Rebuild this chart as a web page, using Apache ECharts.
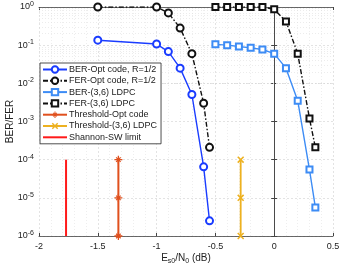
<!DOCTYPE html>
<html><head><meta charset="utf-8">
<script src="https://cdn.jsdelivr.net/npm/echarts@6/dist/echarts.min.js"></script>
<style>html,body{margin:0;padding:0;background:#fff}#c{width:340px;height:274px}</style>
</head><body><div id="c"></div>
<script>
const berOptX = [-1.5, -1.0, -0.9, -0.8, -0.7, -0.6, -0.55];
const berOptY = [0.135, 0.107, 0.068, 0.025, 0.0051, 6.5e-5, 2.5e-6];
const ferOptX = [-1.5, -1.0, -0.9, -0.8, -0.7, -0.6, -0.55];
const ferOptY = [1.0, 1.0, 0.7, 0.28, 0.06, 0.003, 2.1e-4];
const berLdpcX = [-0.5, -0.4, -0.3, -0.2, -0.1, 0.0, 0.1, 0.2, 0.3, 0.35];
const berLdpcY = [0.105, 0.1, 0.092, 0.085, 0.077, 0.06, 0.025, 0.0035, 5.5e-5, 5.6e-6];
const ferLdpcX = [-0.5, -0.4, -0.3, -0.2, -0.1, 0.0, 0.1, 0.2, 0.3, 0.35];
const ferLdpcY = [1.0, 1.0, 1.0, 1.0, 1.0, 0.87, 0.42, 0.06, 0.0012, 2.1e-4];
const thrOptX = [-1.325, -1.325, -1.325];
const thrOptY = [1e-4, 1e-5, 1e-6];
const thrLdpcX = [-0.285, -0.285, -0.285];
const thrLdpcY = [1e-4, 1e-5, 1e-6];
const shannonX = [-1.77, -1.77];
const shannonY = [1e-4, 1e-6];

const zip = (xs, ys) => xs.map((x, i) => [x, ys[i]]);
const minorY = [];
for (let e = -6; e < 0; e++) for (let m = 2; m <= 9; m++) minorY.push({yAxis: m * Math.pow(10, e)});

const FONT = 'Liberation Sans';
const chart = echarts.init(document.getElementById('c'));
const asterisk = 'path://M-1.6,-10L1.6,-10L1.6,10L-1.6,10Z' +
  'M-10,-1.6L10,-1.6L10,1.6L-10,1.6Z' +
  'M-6.72,-4.6L-4.6,-6.72L6.72,4.6L4.6,6.72Z' +
  'M-4.6,6.72L-6.72,4.6L4.6,-6.72L6.72,-4.6Z';
const cross = 'path://M-6.72,-4.6L-4.6,-6.72L6.72,4.6L4.6,6.72Z' +
  'M-4.6,6.72L-6.72,4.6L4.6,-6.72L6.72,-4.6Z';

chart.setOption({
  animation: false,
  textStyle: {fontFamily: FONT},
  grid: {left: 39, right: 7, top: 7, bottom: 38, outerBoundsMode: 'none', containLabel: false},
  legend: {
    orient: 'vertical', left: 40, top: 63,
    backgroundColor: '#fff', borderColor: '#222', borderWidth: 0.8,
    padding: [2, 4, 2, 2], itemGap: 2.3, itemWidth: 24, itemHeight: 8,
    textStyle: {fontSize: 9, color: '#222', fontFamily: FONT, padding: [0, 0, 0, -3]},
    data: ['BER-Opt code, R=1/2', 'FER-Opt code, R=1/2', 'BER-(3,6) LDPC', 'FER-(3,6) LDPC',
           'Threshold-Opt code', 'Threshold-(3,6) LDPC',
           {name: 'Shannon-SW limit', itemStyle: {opacity: 0}}]
  },
  xAxis: [{
    type: 'value', min: -2, max: 0.5, interval: 0.5,
    name: 'E{sub|s0}/N{sub|0} (dB)', nameLocation: 'middle', nameGap: 16, nameMoveOverlap: false,
    nameTextStyle: {fontSize: 10, color: '#222', fontFamily: FONT,
      rich: {sub: {fontSize: 7, verticalAlign: 'bottom', padding: [6, 0, 0, 0], color: '#222'}}},
    axisLine: {lineStyle: {color: '#444', width: 0.8}},
    axisTick: {inside: true, length: 3, lineStyle: {color: '#444'}},
    axisLabel: {fontSize: 9, color: '#222', margin: 6, formatter: v => String(v)},
    splitLine: {show: true, lineStyle: {color: '#d0d0d0', width: 0.6, type: [2, 2]}},
    minorTick: {show: false, splitNumber: 5},
    minorSplitLine: {show: true, lineStyle: {color: '#dcdcdc', width: 0.5, type: [1, 2]}}
  }, {
    type: 'value', min: -2, max: 0.5, interval: 0.5, position: 'top',
    axisLine: {show: true, lineStyle: {color: '#444', width: 0.8}},
    axisTick: {inside: true, length: 3, lineStyle: {color: '#444'}},
    axisLabel: {show: false}, splitLine: {show: false}
  }],
  yAxis: [{
    type: 'log', logBase: 10, min: 1e-6, max: 1,
    name: 'BER/FER', nameLocation: 'middle', nameGap: 24, nameMoveOverlap: false,
    nameTextStyle: {fontSize: 10, color: '#222', fontFamily: FONT},
    axisLine: {show: true, lineStyle: {color: '#444', width: 0.8}},
    axisTick: {inside: true, length: 3, lineStyle: {color: '#444'}},
    axisLabel: {fontSize: 9, color: '#222', margin: 5,
      formatter: v => '10{sup|' + Math.round(Math.log10(v)) + '}',
      rich: {sup: {fontSize: 7, verticalAlign: 'top', padding: [0, 0, 6, 0], color: '#222'}}},
    splitLine: {show: true, lineStyle: {color: '#d0d0d0', width: 0.6, type: [2, 2]}}
  }, {
    type: 'log', logBase: 10, min: 1e-6, max: 1, position: 'right',
    axisLine: {show: true, lineStyle: {color: '#444', width: 0.8}},
    axisTick: {inside: true, length: 3, lineStyle: {color: '#444'}},
    axisLabel: {show: false}, splitLine: {show: false}
  }],
  series: [
    {type: 'line', name: 'BER-Opt code, R=1/2', data: zip(berOptX, berOptY), z: 3,
     color: '#1a3cff', lineStyle: {width: 1.4}, symbol: 'emptyCircle', symbolSize: 7,
     itemStyle: {borderWidth: 1.4},
     markLine: {silent: true, symbol: 'none', label: {show: false}, z: 1,
       lineStyle: {color: '#d8d8d8', width: 0.5, type: [1, 2]}, data: minorY}},
    {type: 'line', name: 'FER-Opt code, R=1/2', data: zip(ferOptX, ferOptY), z: 3,
     color: '#111', lineStyle: {width: 1.4, type: [5, 2, 1.5, 2]}, symbol: 'emptyCircle', symbolSize: 7,
     itemStyle: {borderWidth: 1.4}},
    {type: 'line', name: 'BER-(3,6) LDPC', data: zip(berLdpcX, berLdpcY), z: 3,
     color: '#3d8cf5', lineStyle: {width: 1.4}, symbol: 'emptyRect', symbolSize: 6,
     itemStyle: {borderWidth: 1.3}},
    {type: 'line', name: 'FER-(3,6) LDPC', data: zip(ferLdpcX, ferLdpcY), z: 3,
     color: '#111', lineStyle: {width: 1.4, type: [5, 2, 1.5, 2]}, symbol: 'emptyRect', symbolSize: 6,
     itemStyle: {borderWidth: 1.3}},
    {type: 'line', name: 'Threshold-Opt code', data: zip(thrOptX, thrOptY), z: 3,
     color: '#e0501e', lineStyle: {width: 2}, symbol: asterisk, symbolSize: 8,
     itemStyle: {color: '#e0501e', borderWidth: 0}},
    {type: 'line', name: 'Threshold-(3,6) LDPC', data: zip(thrLdpcX, thrLdpcY), z: 3,
     color: '#edb120', lineStyle: {width: 1.8}, symbol: cross, symbolSize: 7,
     itemStyle: {color: '#edb120', borderWidth: 0}},
    {type: 'line', name: 'Shannon-SW limit', data: zip(shannonX, shannonY), z: 3,
     color: '#ff1a1a', lineStyle: {width: 2}, symbol: 'none'}
  ]
});
</script></body></html>
